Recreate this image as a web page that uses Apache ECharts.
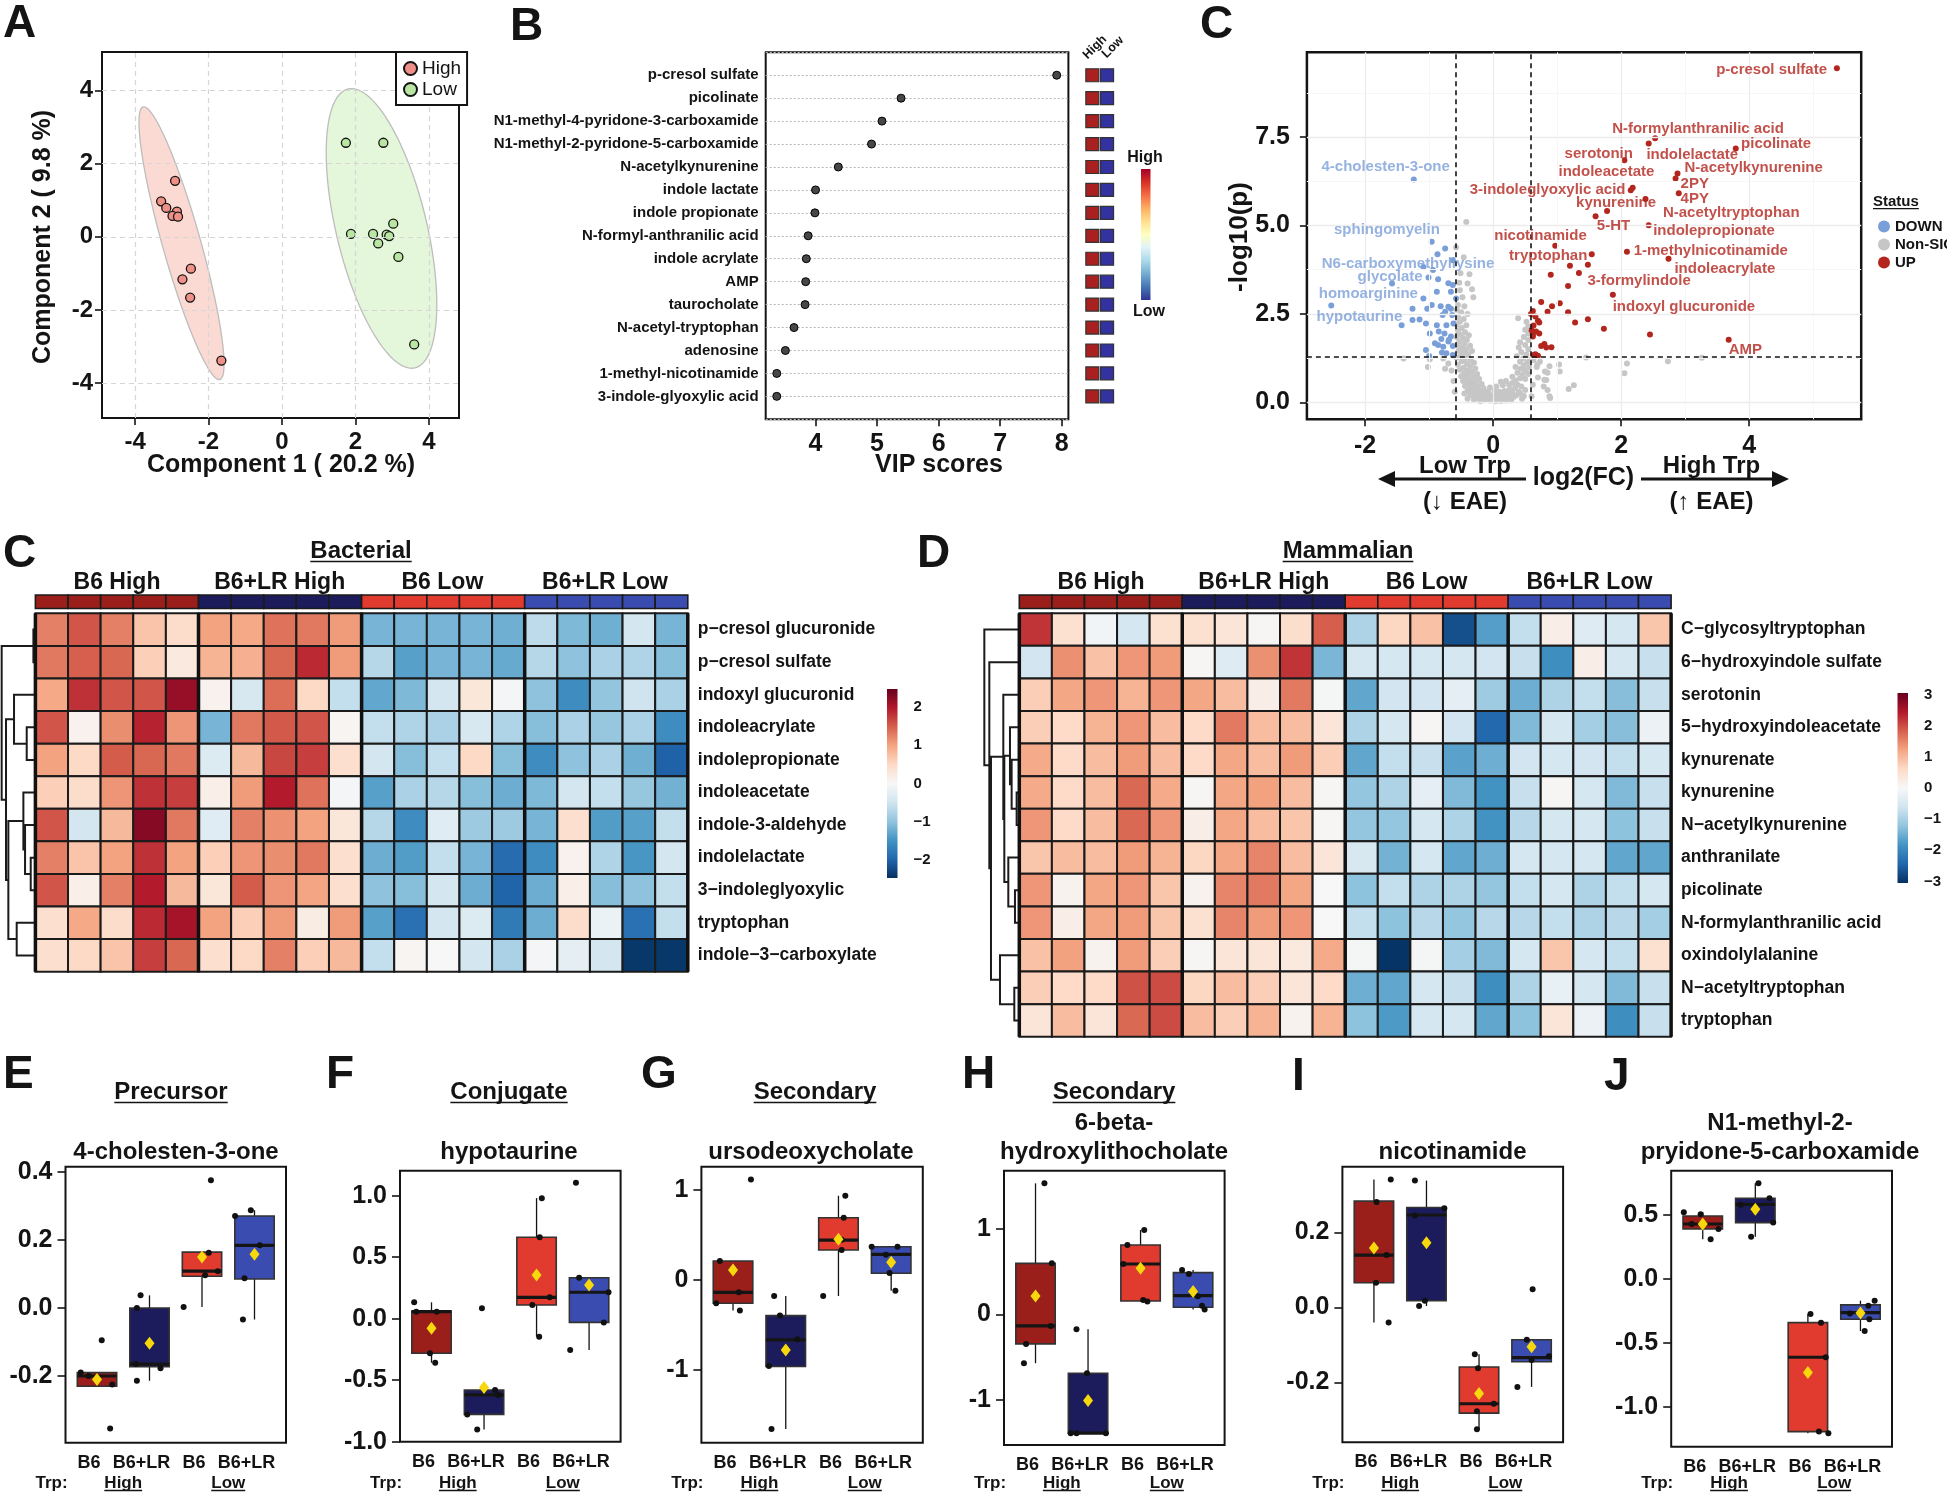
<!DOCTYPE html>
<html>
<head>
<meta charset="utf-8">
<title>Tryptophan metabolites</title>
<script src="https://cdn.jsdelivr.net/npm/echarts@6.0.0/dist/echarts.min.js"></script>
<style>
  html, body { margin: 0; padding: 0; background: #fff; }
  #main { width: 1947px; height: 1492px; }
</style>
</head>
<body>
<div id="main"></div>
<script>
// ---------------- data ----------------
// A: PLS-DA scores
const pcaHigh = [[-2.91,1.53],[-3.29,0.97],[-3.15,0.79],[-2.86,0.69],[-2.98,0.57],[-2.83,0.55],[-2.48,-0.87],[-2.71,-1.16],[-2.50,-1.66],[-1.65,-3.38]];
const pcaLow = [[1.74,2.57],[2.76,2.57],[3.03,0.36],[1.88,0.08],[2.48,0.08],[2.85,0.06],[2.92,0.02],[2.62,-0.18],[3.17,-0.55],[3.60,-2.94]];
// ellipse: centre x, centre y, semi-major vector, semi-minor vector
const ellipseHigh = [-2.735, -0.175, 1.045, -3.725, 0.50, 0.14];
const ellipseLow = [2.71, 0.23, 0.91, -3.81, 1.20, 0.285];
const pcaTicks = [-4, -2, 0, 2, 4];

// B: VIP scores
const vipNames = ['p-cresol sulfate','picolinate','N1-methyl-4-pyridone-3-carboxamide','N1-methyl-2-pyridone-5-carboxamide','N-acetylkynurenine','indole lactate','indole propionate','N-formyl-anthranilic acid','indole acrylate','AMP','taurocholate','N-acetyl-tryptophan','adenosine','1-methyl-nicotinamide','3-indole-glyoxylic acid'];
const vipScores = [7.92,5.39,5.08,4.91,4.37,4.00,3.99,3.88,3.85,3.84,3.83,3.65,3.51,3.37,3.37];
const vipTicks = [4, 5, 6, 7, 8];

// C: volcano
const volcUp = [[5.37,9.45],[2.53,7.47],[2.43,7.32],[3.79,7.18],[2.05,6.85],[2.88,6.47],[2.85,6.33],[2.18,6.07],[2.15,6.00],[2.90,5.91],[2.38,5.75],[1.78,5.41],[1.60,5.26],[2.43,5.01],[0.97,4.43],[2.09,4.26],[1.54,4.19],[2.74,4.06],[1.20,3.86],[1.48,3.89],[0.90,3.61],[1.34,3.66],[1.17,3.29],[1.87,3.04],[0.75,2.84],[1.04,2.80],[0.92,2.72],[0.62,2.58],[0.85,2.56],[1.17,2.55],[0.59,2.50],[0.66,2.43],[0.70,2.31],[1.28,2.26],[1.48,2.35],[0.72,2.26],[0.63,2.17],[0.60,2.04],[1.73,2.08],[2.45,1.92],[0.67,2.00],[0.72,1.95],[0.62,1.91],[0.62,1.86],[3.68,1.77],[0.80,1.65],[0.75,1.59],[0.91,1.56],[0.83,1.55],[0.66,1.36],[0.70,1.32],[0.63,1.34]];
const volcDown = [[-1.24,6.30],[-0.96,4.54],[-0.75,4.35],[-0.87,4.19],[-0.63,4.02],[-1.09,3.83],[-0.94,3.74],[-1.01,3.53],[-0.86,3.48],[-0.70,3.37],[-0.63,3.32],[-1.58,3.36],[-0.88,3.13],[-0.66,3.13],[-1.09,2.94],[-0.58,2.94],[-2.53,2.74],[-0.96,2.75],[-0.82,2.72],[-0.70,2.70],[-1.26,2.65],[-1.03,2.65],[-0.75,2.56],[-0.66,2.65],[-0.64,2.47],[-0.79,2.47],[-1.26,2.33],[-1.15,2.34],[-1.43,2.18],[-1.05,2.23],[-0.88,2.18],[-0.73,2.18],[-0.62,2.23],[-0.99,1.95],[-0.85,2.00],[-0.76,1.95],[-0.66,1.86],[-0.81,1.79],[-0.70,1.72],[-0.86,1.62],[-0.63,1.59],[-1.05,1.48],[-0.73,1.39],[-1.00,1.31],[-0.63,1.34],[-0.78,1.57],[-0.91,1.67],[-0.69,1.77],[-0.80,1.41]];
const volcNS = [[-0.42,5.10],[-0.58,4.38],[-0.46,4.10],[-0.51,3.65],[-0.37,3.62],[-0.53,3.38],[-0.40,3.36],[-0.52,3.17],[-0.33,3.20],[-0.31,2.97],[-0.48,2.97],[-0.55,2.75],
[-0.45,2.72],[-0.57,2.62],[-0.50,2.55],[-0.40,2.50],[-0.55,2.42],[-0.46,2.36],[-0.52,2.28],[-0.57,2.20],[-0.42,2.18],[-0.49,2.10],[-0.55,2.04],[-0.44,1.98],[-0.52,1.92],[-0.38,1.90],[-0.57,1.85],[-0.47,1.82],[-0.41,1.76],[-0.53,1.72],[-0.45,1.66],[-0.56,1.62],[-0.36,1.60],[-0.49,1.56],[-0.42,1.50],[-0.54,1.46],[-0.33,1.45],[-0.46,1.40],[-0.39,1.35],[-0.51,1.31],[-0.57,1.26],[-0.44,1.24],[-0.35,1.20],[-0.49,1.16],[-0.30,1.12],[-0.41,1.10],[-0.55,1.06],[-0.36,1.02],[-0.46,0.98],[-0.28,0.96],[-0.52,0.92],[-0.40,0.90],[-0.33,0.86],[-0.45,0.82],[-0.25,0.80],[-0.38,0.77],[-0.50,0.74],[-0.30,0.71],[-0.42,0.68],[-0.22,0.66],[-0.35,0.62],[-0.47,0.60],[-0.27,0.57],[-0.40,0.54],[-0.18,0.52],[-0.32,0.49],[-0.44,0.46],[-0.24,0.44],[-0.36,0.41],[-0.15,0.40],[-0.28,0.37],[-0.40,0.33],[-0.20,0.32],[-0.33,0.28],[-0.12,0.27],[-0.25,0.24],[-0.36,0.20],[-0.17,0.19],[-0.29,0.15],[-0.08,0.16],[-0.22,0.11],[-0.13,0.09],[-0.30,0.07],[-0.40,0.10],[-0.45,0.25],[-0.20,0.03],
[-0.05,0.05],[0.00,0.12],[0.04,0.03],[0.08,0.10],[0.12,0.04],[0.16,0.12],[0.20,0.05],[0.24,0.13],[0.28,0.06],[0.32,0.15],[-0.02,0.20],[0.06,0.22],[0.14,0.20],[0.22,0.24],[0.30,0.26],[0.36,0.20],[0.10,0.30],[0.18,0.32],[0.02,0.34],[0.26,0.36],[-0.08,0.30],[0.40,0.30],[0.34,0.40],[0.45,0.10],[0.42,0.25],[0.48,0.18],[0.50,0.35],[0.38,0.50],[0.44,0.45],[0.05,0.45],[0.15,0.48],[0.25,0.50],[-0.05,0.42],[0.20,0.60],[0.30,0.55],[0.12,0.58],
[0.35,0.62],[0.42,0.68],[0.50,0.66],[0.30,0.72],[0.46,0.78],[0.55,0.80],[0.38,0.84],[0.50,0.90],[0.43,0.95],[0.56,0.98],[0.35,1.00],[0.48,1.05],[0.53,1.12],[0.42,1.15],[0.57,1.20],[0.47,1.25],[0.37,1.30],[0.52,1.35],[0.44,1.42],[0.55,1.50],[0.40,1.55],[0.50,1.62],[0.42,1.70],[0.55,1.76],[0.48,1.85],[0.55,1.95],[0.50,2.05],[0.39,2.38],[0.52,2.28],[0.55,2.15],
[-1.40,1.24],[-1.02,1.00],[-0.99,1.22],[-0.78,1.24],[-0.70,1.10],[-0.65,0.90],[-0.62,0.60],[-0.60,0.30],[-0.75,0.95],
[1.45,1.27],[2.09,1.10],[2.05,0.82],[2.73,1.16],[3.26,1.26],[1.04,0.87],[1.26,0.48],[1.18,0.38],[0.85,0.35],[0.88,0.17],[0.83,0.63],[0.60,0.17],[1.03,1.07],[0.69,1.07],[0.88,1.02],[0.81,0.87],[0.73,1.15],[0.63,1.20],[0.68,1.00],[0.79,0.45],[0.80,0.64],[0.85,0.84],[0.89,0.12],[0.62,0.50],[0.70,0.70]];
const volcLabels = [
  ['p-cresol sulfate',4.35,9.39,'UP'],['N-formylanthranilic acid',3.20,7.73,'UP'],['picolinate',4.42,7.32,'UP'],['serotonin',1.65,7.04,'UP'],
  ['indolelactate',3.11,7.01,'UP'],['N-acetylkynurenine',4.07,6.63,'UP'],['indoleacetate',1.77,6.52,'UP'],['2PY',3.15,6.19,'UP'],
  ['3-indoleglyoxylic acid',0.85,6.00,'UP'],['4PY',3.15,5.75,'UP'],['kynurenine',1.92,5.65,'UP'],['N-acetyltryptophan',3.72,5.37,'UP'],
  ['5-HT',1.88,4.98,'UP'],['indolepropionate',3.45,4.84,'UP'],['nicotinamide',0.74,4.71,'UP'],['1-methylnicotinamide',3.40,4.28,'UP'],
  ['tryptophan',0.86,4.14,'UP'],['indoleacrylate',3.62,3.77,'UP'],['3-formylindole',2.28,3.44,'UP'],['indoxyl glucuronide',2.98,2.69,'UP'],
  ['AMP',3.94,1.48,'UP'],
  ['4-cholesten-3-one',-1.68,6.66,'DOWN'],['sphingomyelin',-1.66,4.87,'DOWN'],['N6-carboxymethyllysine',-1.33,3.93,'DOWN'],
  ['glycolate',-1.61,3.55,'DOWN'],['homoarginine',-1.95,3.08,'DOWN'],['hypotaurine',-2.09,2.42,'DOWN']
];
const volcXTicks = [-2, 0, 2, 4];
const volcYTicks = [0, 2.5, 5, 7.5];
const fcCut = 0.585, pCut = 1.301;

// heatmaps
const groupNames = ['B6 High', 'B6+LR High', 'B6 Low', 'B6+LR Low'];
const sampleGroup = [0,0,0,0,0, 1,1,1,1,1, 2,2,2,2,2, 3,3,3,3,3];
const bactRows = ['p−cresol glucuronide','p−cresol sulfate','indoxyl glucuronid','indoleacrylate','indolepropionate','indoleacetate','indole-3-aldehyde','indolelactate','3−indoleglyoxylic','tryptophan','indole−3−carboxylate'];
const bactVals = [
  [1.25,1.55,1.25,0.7,0.45, 1.0,0.95,1.35,1.3,1.05, -1.15,-1.15,-1.15,-1.15,-1.2, -0.65,-1.1,-1.2,-0.45,-1.15],
  [1.3,1.48,1.42,0.6,0.25, 0.85,0.88,1.42,1.85,1.05, -0.7,-1.35,-1.15,-1.15,-1.25, -0.7,-1.0,-0.8,-0.75,-1.05],
  [0.95,1.8,1.55,1.55,2.15, 0.1,-0.4,1.38,0.5,-0.6, -1.28,-1.1,-0.45,0.3,-0.05, -1.0,-1.55,-0.98,-0.5,-0.8],
  [1.55,0.1,1.15,1.9,1.1, -1.15,1.3,1.52,1.55,0.05, -0.6,-0.75,-0.8,-0.4,-0.75, -1.05,-0.8,-0.95,-0.8,-1.55],
  [1.0,0.5,1.5,1.42,1.3, -0.35,0.8,1.65,1.7,0.42, -0.45,-1.05,-0.6,0.5,-1.05, -1.55,-1.0,-0.8,-1.2,-2.0],
  [0.6,0.45,1.1,1.8,1.7, 0.15,1.05,1.95,1.35,-0.05, -1.35,-0.8,-0.7,-1.05,-1.22, -1.1,-0.45,-0.6,-0.95,-1.18],
  [1.55,-0.45,0.8,2.25,1.3, -0.3,1.25,1.12,1.0,0.3, -0.7,-1.55,-0.3,-0.9,-0.9, -1.15,0.42,-1.38,-1.35,-0.6],
  [1.25,0.7,1.0,1.8,1.0, 0.6,1.1,1.15,1.3,0.42, -1.22,-1.38,-0.6,-1.15,-1.9, -1.55,0.1,-0.75,-1.45,-0.45],
  [1.55,0.15,1.25,1.95,0.8, 0.3,1.5,1.1,0.98,0.42, -1.0,-1.05,-0.45,-1.22,-1.98, -1.22,0.15,-1.05,-1.0,-0.6],
  [0.42,0.95,0.45,1.85,2.05, 1.0,0.6,1.05,0.2,1.05, -1.35,-1.85,-0.45,-0.35,-1.75, -1.22,0.45,-0.15,-1.85,-0.6],
  [0.42,0.5,0.7,1.7,1.42, 0.42,0.5,1.25,0.6,0.8, -0.6,0.05,0.0,-0.45,-0.8, -0.05,-0.25,-0.45,-2.4,-2.4]
];
// dendrogram merges, hclust style: negative = leaf (row), positive = earlier merge; last = height
const bactMerges = [[-1,-2,6],[-4,-5,26],[-3,2,64],[-8,-9,14],[-7,4,31],[-6,5,36],[-10,-11,56],[6,7,81],[3,8,88],[1,9,101]];
const bactScale = [-2, -1, 0, 1, 2];

const mammRows = ['C−glycosyltryptophan','6−hydroxyindole sulfate','serotonin','5−hydroxyindoleacetate','kynurenate','kynurenine','N−acetylkynurenine','anthranilate','picolinate','N-formylanthranilic acid','oxindolylalanine','N−acetyltryptophan','tryptophan'];
const mammVals = [
  [2.2,0.5,-0.1,-0.55,0.5, 0.5,0.4,0.05,0.55,1.85, -0.95,0.65,0.9,-2.7,-1.7, -0.75,0.2,-0.4,-0.55,0.85],
  [-0.6,1.4,0.9,1.35,1.3, 0.05,-0.4,1.4,2.2,-1.4, -0.55,-0.55,-0.55,-0.55,-0.6, -0.7,-1.9,0.2,-0.55,-0.7],
  [0.75,1.2,1.35,1.05,1.35, 1.2,0.95,0.2,1.6,-0.05, -1.6,-0.6,-0.6,-0.3,-1.1, -1.5,-0.95,-0.75,-1.3,-0.7],
  [0.75,0.6,1.05,1.35,0.95, 0.6,1.6,0.95,0.95,0.4, -0.95,-0.55,0.05,-0.6,-2.4, -1.35,-0.55,-1.05,-1.3,-0.2],
  [1.15,0.6,0.95,1.3,0.95, 0.6,1.2,0.95,1.3,0.75, -1.6,-0.75,-0.7,-1.65,-1.5, -0.6,-0.55,-0.6,-0.75,-0.55],
  [1.15,0.6,0.95,1.75,1.15, 0.05,1.2,1.25,0.95,0.05, -1.2,-0.95,-0.3,-1.35,-1.85, -0.7,0.05,-0.55,-1.35,-0.7],
  [1.35,0.6,0.95,1.75,1.35, 0.2,1.2,0.95,0.85,0.05, -1.2,-1.2,-0.55,-0.95,-1.85, -0.85,-0.55,-0.55,-1.25,-0.7],
  [0.85,0.95,0.95,1.3,1.05, 0.65,1.2,1.5,0.95,0.4, -0.5,-1.45,-0.55,-1.6,-1.5, -0.55,-0.55,-0.55,-1.6,-1.6],
  [1.35,0.1,1.2,1.35,0.85, 0.1,1.5,1.6,1.2,0.0, -1.25,-0.75,-0.95,-0.95,-1.2, -0.75,-0.55,-0.95,-0.75,-0.55],
  [1.35,0.2,1.2,1.3,0.85, 0.5,1.5,1.3,1.35,0.0, -0.75,-1.25,-0.85,-1.2,-0.85, -0.85,-0.75,-0.95,-0.85,-1.05],
  [0.9,1.25,0.1,1.3,0.75, 0.05,0.4,0.4,0.3,1.15, -0.05,-3.0,-0.05,-1.05,-1.35, -0.55,0.85,-0.55,-0.75,0.5],
  [0.75,0.6,0.6,1.95,2.0, 0.65,0.95,0.75,0.4,0.6, -1.5,-1.6,-0.55,-0.7,-1.9, -0.95,-0.25,-0.55,-1.35,-0.7],
  [0.4,0.95,0.4,1.75,2.0, 0.95,0.75,1.05,0.1,1.05, -1.25,-1.75,-0.55,-0.55,-1.6, -1.25,0.4,-0.2,-1.9,-0.7]
];
const mammMerges = [[-6,-7,8],[-5,1,23],[-4,2,28],[-9,-10,13],[-8,4,33],[3,5,45],[-3,6,48],[-12,-13,15],[-11,8,58],[7,9,85],[-2,10,90],[-1,11,105]];
const mammScale = [-3, -2, -1, 0, 1, 2, 3];

// E-J: box plots  [min, Q1, median, Q3, max] per group, points, jitter, mean
const boxCats = ['B6', 'B6+LR', 'B6', 'B6+LR'];
const eBox = [[-0.23,-0.23,-0.20,-0.19,-0.19],[-0.214,-0.173,-0.165,0.0,0.037],[0.003,0.093,0.108,0.164,0.164],[-0.034,0.085,0.184,0.27,0.287]];
const eVals = [[-0.19,-0.20,-0.225,-0.095,-0.354],[0.037,0.0,-0.165,-0.177,-0.214],[0.375,0.162,0.108,0.096,0.003],[0.287,0.27,0.184,0.087,-0.034]];
const eJit = [[-0.31,-0.16,0.29,0.09,0.25],[-0.17,-0.24,-0.26,0.21,-0.24],[0.17,0.13,0.3,0.06,-0.35],[-0.07,-0.37,0.1,-0.19,-0.22]];
const eMean = [-0.21,-0.104,0.15,0.158];
const fBox = [[-0.358,-0.281,0.057,0.063,0.133],[-0.9,-0.778,-0.62,-0.58,-0.58],[-0.146,0.111,0.174,0.662,0.98],[-0.254,-0.03,0.215,0.333,0.333]];
const fVals = [[0.133,0.057,0.057,-0.281,-0.358],[0.084,-0.62,-0.778,-0.9,-0.58],[0.98,0.662,0.174,0.111,-0.146],[1.106,0.333,0.215,-0.03,-0.254]];
const fJit = [[-0.33,-0.29,0.1,-0.03,0.07],[-0.04,0.27,-0.32,-0.13,0.21],[0.1,0.06,0.25,-0.08,0.05],[-0.25,-0.19,0.37,0.28,-0.36]];
const fMean = [-0.078,-0.56,0.355,0.274];
const gBox = [[-0.34,-0.259,-0.137,0.211,0.211],[-1.659,-0.963,-0.667,-0.396,-0.178],[-0.178,0.333,0.444,0.692,0.937],[-0.119,0.074,0.285,0.37,0.37]];
const gVals = [[0.211,-0.137,-0.259,-0.34,1.119],[-0.178,-0.396,-0.66,-0.957,-1.659],[0.937,0.692,0.448,0.333,-0.178],[0.37,0.37,0.28,0.078,-0.119]];
const gJit = [[-0.25,0.11,-0.32,0.13,0.34],[-0.22,-0.11,0.22,-0.32,-0.27],[0.13,0.1,0.06,0.06,-0.29],[-0.37,0.12,-0.1,-0.03,0.08]];
const gMean = [0.111,-0.778,0.452,0.196];
const hBox = [[-0.573,-0.347,-0.137,0.596,1.532],[-1.392,-1.392,-1.392,-0.69,-0.175],[0.15,0.156,0.588,0.81,0.986],[0.055,0.082,0.218,0.487,0.518]];
const hVals = [[1.532,0.596,-0.137,-0.347,-0.573],[-0.175,-0.69,-1.392,-1.392,-1.392],[0.986,0.81,0.588,0.166,0.15],[0.518,0.471,0.21,0.1,0.055]];
const hJit = [[0.17,0.31,0.29,-0.18,-0.22],[-0.22,-0.02,-0.33,-0.22,0.34],[0.07,-0.25,-0.33,0.05,0.13],[-0.21,-0.08,0.09,0.17,0.22]];
const hMean = [0.214,-1.01,0.538,0.265];
const iBox = [[-0.04,0.066,0.14,0.284,0.342],[0.004,0.018,0.247,0.267,0.339],[-0.325,-0.282,-0.257,-0.159,-0.125],[-0.212,-0.145,-0.134,-0.086,-0.086]];
const iVals = [[0.342,0.282,0.14,0.066,-0.04],[0.339,0.265,0.246,0.018,0.004],[-0.125,-0.162,-0.257,-0.277,-0.325],[0.049,-0.086,-0.14,-0.13,-0.212]];
const iJit = [[0.32,0.05,0.24,0.04,0.28],[-0.22,0.34,-0.22,-0.03,-0.14],[-0.08,-0.02,0.28,-0.04,-0.04],[0.02,-0.09,0,0.33,-0.27]];
const iMean = [0.159,0.173,-0.23,-0.105];
const jBox = [[0.31,0.391,0.43,0.493,0.522],[0.331,0.441,0.584,0.631,0.749],[-1.208,-1.195,-0.613,-0.342,-0.274],[-0.408,-0.316,-0.263,-0.203,-0.17]];
const jVals = [[0.522,0.507,0.43,0.391,0.31],[0.749,0.631,0.441,0.331,0.58],[-0.274,-0.342,-0.613,-1.195,-1.208],[-0.17,-0.21,-0.27,-0.316,-0.408]];
const jJit = [[-0.36,-0.04,-0.21,0.3,0.15],[0.06,0.27,0.34,-0.08,-0.28],[0.05,0.25,0.34,0.21,0.39],[0.27,0.15,-0.2,0.17,0.08]];
const jMean = [0.43,0.545,-0.733,-0.266];

// ---------------- styling ----------------
const FONT = '"Liberation Sans", Arial, Helvetica, sans-serif';
const INK = '#141414';
const rdbu = ['#053061','#2166ac','#4393c3','#92c5de','#d1e5f0','#f7f7f7','#fddbc7','#f4a582','#d6604d','#b2182b','#67001f'];
const rdylbu = ['#313695','#4575b4','#74add1','#abd9e9','#e0f3f8','#ffffbf','#fee090','#fdae61','#f46d43','#d73027','#a50026'];
const groupColors = ['#9a1f1b', '#1c1c5c', '#e13a2e', '#3a4cb0'];
const upColor = '#b3261e', downColor = '#7a9fd8', nsColor = '#c6c6c6';

const grids = [], xAxes = [], yAxes = [], series = [], graphics = [];
function addGrid(g, x, y) {
  grids.push(g);
  const gi = grids.length - 1;
  xAxes.push(Object.assign({ gridIndex: gi }, x));
  yAxes.push(Object.assign({ gridIndex: gi }, y));
  return gi;
}
const hidden = (min, max, extra) => Object.assign({ type: 'value', min, max, show: false }, extra || {});
const tickAxis = (min, max, ticks, fmt, size, margin, tickLen) => ({
  type: 'value', min, max,
  axisLine: { show: false, onZero: false }, splitLine: { show: false },
  axisTick: { show: true, customValues: ticks, length: tickLen || 7, lineStyle: { color: INK, width: 1.6 } },
  axisLabel: { customValues: ticks, formatter: fmt, fontSize: size, fontWeight: 'bold', color: INK, fontFamily: FONT, margin }
});

const measure = document.createElement('canvas').getContext('2d');
function txt(text, x, y, size, o) {
  o = o || {};
  const align = o.align || 'center';
  const font = (o.weight || 'bold') + ' ' + size + 'px ' + FONT;
  graphics.push({ type: 'text', x, y, rotation: o.rot || 0, z: 50, silent: true,
    style: { text, font, fill: o.color || INK, align, verticalAlign: 'middle', textAlign: align, textVerticalAlign: 'middle' } });
  if (o.underline) {
    measure.font = font;
    const w = measure.measureText(text).width;
    const x0 = align === 'center' ? x - w / 2 : (align === 'left' ? x : x - w);
    const uy = y + size * 0.44;
    graphics.push({ type: 'line', z: 50, silent: true, shape: { x1: x0, y1: uy, x2: x0 + w, y2: uy },
      style: { stroke: INK, lineWidth: Math.max(1.3, size / 15) } });
  }
}

// ---------------- A ----------------
const gA = addGrid({ left: 102, top: 52, width: 357, height: 366, show: true, borderColor: INK, borderWidth: 2 },
  tickAxis(-4.9, 4.82, pcaTicks, v => String(v), 24, 12),
  tickAxis(-4.95, 5.05, pcaTicks, v => String(v), 24, 9));
series.push({ type: 'scatter', xAxisIndex: gA, yAxisIndex: gA, data: [], z: 0, silent: true,
  markLine: { silent: true, symbol: 'none', animation: false, label: { show: false },
    lineStyle: { type: [5, 4], color: '#d6d6d6', width: 1.2 },
    data: pcaTicks.map(v => ({ xAxis: v })).concat(pcaTicks.map(v => ({ yAxis: v }))) } });
function ellipseItem(e, fill) {
  return function (params, api) {
    const pts = [];
    for (let k = 0; k <= 90; k++) {
      const t = k / 90 * Math.PI * 2;
      pts.push(api.coord([e[0] + Math.cos(t) * e[2] + Math.sin(t) * e[4], e[1] + Math.cos(t) * e[3] + Math.sin(t) * e[5]]));
    }
    return { type: 'polygon', shape: { points: pts }, style: { fill, stroke: '#bdbdbd', lineWidth: 1.3 } };
  };
}
series.push({ type: 'custom', xAxisIndex: gA, yAxisIndex: gA, silent: true, z: 1, data: [[ellipseHigh[0], ellipseHigh[1]]], renderItem: ellipseItem(ellipseHigh, 'rgba(249,205,196,0.75)') });
series.push({ type: 'custom', xAxisIndex: gA, yAxisIndex: gA, silent: true, z: 1, data: [[ellipseLow[0], ellipseLow[1]]], renderItem: ellipseItem(ellipseLow, 'rgba(226,246,214,0.9)') });
series.push({ type: 'scatter', name: 'High', xAxisIndex: gA, yAxisIndex: gA, data: pcaHigh, symbolSize: 9, z: 3,
  itemStyle: { color: '#ef9088', borderColor: INK, borderWidth: 1.3, opacity: 1 } });
series.push({ type: 'scatter', name: 'Low', xAxisIndex: gA, yAxisIndex: gA, data: pcaLow, symbolSize: 9, z: 3,
  itemStyle: { color: '#b9e6a2', borderColor: INK, borderWidth: 1.3, opacity: 1 } });

// ---------------- B ----------------
const gB = addGrid({ left: 765.7, top: 52.3, width: 302.7, height: 367, show: true, borderColor: INK, borderWidth: 2 },
  tickAxis(3.19, 8.11, vipTicks, v => String(v), 25, 12),
  { type: 'value', min: 0, max: vipNames.length + 1, interval: 1, inverse: true,
    axisLine: { show: false, onZero: false }, axisTick: { show: false },
    splitLine: { show: true, lineStyle: { type: [2, 2], color: '#b9b9b9', width: 1 } },
    axisLabel: { formatter: v => vipNames[v - 1] || '', fontSize: 15, fontWeight: 'bold', color: INK, fontFamily: FONT, margin: 7 } });
series.push({ type: 'scatter', xAxisIndex: gB, yAxisIndex: gB, data: vipScores.map((v, i) => [v, i + 1]), symbolSize: 8, z: 3,
  itemStyle: { color: '#474747', borderColor: '#000', borderWidth: 1, opacity: 1 } });
const gSq = addGrid({ left: 1085, top: 52.3, width: 29.4, height: 367 },
  { type: 'category', data: ['High', 'Low'], show: false },
  hidden(0, vipNames.length + 1, { inverse: true }));
series.push({ type: 'scatter', name: 'sqHigh', xAxisIndex: gSq, yAxisIndex: gSq, symbol: 'rect', symbolSize: 13, silent: true,
  data: vipNames.map((n, i) => ['High', i + 1]), itemStyle: { color: '#a8201f', borderColor: '#333', borderWidth: 1.2, opacity: 1 } });
series.push({ type: 'scatter', name: 'sqLow', xAxisIndex: gSq, yAxisIndex: gSq, symbol: 'rect', symbolSize: 13, silent: true,
  data: vipNames.map((n, i) => ['Low', i + 1]), itemStyle: { color: '#3431a0', borderColor: '#333', borderWidth: 1.2, opacity: 1 } });

// ---------------- C volcano ----------------
const gV = addGrid({ left: 1306.9, top: 52.3, width: 554.3, height: 367, show: true, borderColor: INK, borderWidth: 2.5 },
  tickAxis(-2.91, 5.75, volcXTicks, v => String(v), 25, 14),
  tickAxis(-0.48, 9.9, volcYTicks, v => v.toFixed(1), 25, 17));
const majorX = volcXTicks, minorX = [-1, 1, 3, 5], majorY = volcYTicks, minorY = [1.25, 3.75, 6.25, 8.75];
series.push({ type: 'scatter', xAxisIndex: gV, yAxisIndex: gV, data: [], z: 0, silent: true,
  markLine: { silent: true, symbol: 'none', animation: false, label: { show: false },
    data: majorX.map(v => ({ xAxis: v, lineStyle: { color: '#ececec', width: 1.3, type: 'solid' } }))
      .concat(majorY.map(v => ({ yAxis: v, lineStyle: { color: '#ececec', width: 1.3, type: 'solid' } })))
      .concat(minorX.map(v => ({ xAxis: v, lineStyle: { color: '#f6f6f6', width: 1, type: 'solid' } })))
      .concat(minorY.map(v => ({ yAxis: v, lineStyle: { color: '#f6f6f6', width: 1, type: 'solid' } }))) } });
series.push({ type: 'scatter', name: 'Non-SIG', xAxisIndex: gV, yAxisIndex: gV, data: volcNS, symbolSize: 6, z: 2, itemStyle: { color: nsColor, opacity: 1 } });
series.push({ type: 'scatter', name: 'DOWN', xAxisIndex: gV, yAxisIndex: gV, data: volcDown, symbolSize: 6, z: 3, itemStyle: { color: downColor, opacity: 1 } });
series.push({ type: 'scatter', name: 'UP', xAxisIndex: gV, yAxisIndex: gV, data: volcUp, symbolSize: 6, z: 3, itemStyle: { color: upColor, opacity: 1 } });
series.push({ type: 'scatter', xAxisIndex: gV, yAxisIndex: gV, data: [], z: 8, silent: true,
  markLine: { silent: true, symbol: 'none', animation: false, label: { show: false },
    lineStyle: { type: [5, 4], color: INK, width: 1.6 },
    data: [{ xAxis: -fcCut }, { xAxis: fcCut }, { yAxis: pCut }] } });
series.push({ type: 'scatter', xAxisIndex: gV, yAxisIndex: gV, symbolSize: 0, z: 9, silent: true,
  data: volcLabels.map(l => ({ value: [l[1], l[2]], name: l[0], label: { color: l[3] === 'UP' ? upColor : downColor } })),
  label: { show: true, position: 'inside', formatter: p => p.name, fontSize: 15, fontWeight: 'bold', fontFamily: FONT },
  labelLayout: { hideOverlap: false } });

// ---------------- heatmaps ----------------
function heatItem(params, api) {
  const c = api.value(0), r = api.value(1);
  const a = api.coord([c, r]), b = api.coord([c + 1, r + 1]);
  return { type: 'rect', shape: { x: Math.min(a[0], b[0]), y: Math.min(a[1], b[1]), width: Math.abs(b[0] - a[0]), height: Math.abs(b[1] - a[1]) },
    style: { fill: api.visual('color'), stroke: '#1b1b1b', lineWidth: 2 } };
}
function annItem(params, api) {
  const c = api.value(0);
  const a = api.coord([c, 0]), b = api.coord([c + 1, 1]);
  return { type: 'rect', shape: { x: a[0], y: Math.min(a[1], b[1]), width: b[0] - a[0], height: Math.abs(b[1] - a[1]) },
    style: { fill: groupColors[api.value(2)], stroke: '#1b1b1b', lineWidth: 1.6 } };
}
function sepItem(nRows) {
  return function (params, api) {
    const x = api.value(0);
    const a = api.coord([x, 0]), b = api.coord([x, nRows]);
    return { type: 'line', shape: { x1: a[0], y1: a[1], x2: b[0], y2: b[1] }, style: { stroke: '#111', lineWidth: 3.5 } };
  };
}
function dendroData(merges) {
  const pos = [], hgt = [], out = [];
  merges.forEach(m => {
    const pa = m[0] < 0 ? -m[0] - 0.5 : pos[m[0] - 1], ha = m[0] < 0 ? 0 : hgt[m[0] - 1];
    const pb = m[1] < 0 ? -m[1] - 0.5 : pos[m[1] - 1], hb = m[1] < 0 ? 0 : hgt[m[1] - 1];
    pos.push((pa + pb) / 2); hgt.push(m[2]);
    out.push([ha, pa, hb, pb, m[2]]);
  });
  return out;
}
function dendroItem(params, api) {
  const h = api.value(4);
  const pts = [api.coord([api.value(0), api.value(1)]), api.coord([h, api.value(1)]), api.coord([h, api.value(3)]), api.coord([api.value(2), api.value(3)])];
  return { type: 'polyline', shape: { points: pts }, style: { stroke: '#1b1b1b', lineWidth: 2, fill: null } };
}
function barItem(lo, hi) {
  return function (params, api) {
    const a = api.coord([0, hi]), b = api.coord([1, lo]);
    return { type: 'rect', shape: { x: a[0], y: a[1], width: b[0] - a[0], height: b[1] - a[1] },
      style: { fill: { type: 'linear', x: 0, y: 0, x2: 0, y2: 1,
        colorStops: rdbu.slice().reverse().map((c, i, arr) => ({ offset: i / (arr.length - 1), color: c })) } } };
  };
}
const visualMaps = [];
function heatPanel(rows, vals, merges, maxH, lim, scaleTicks, geo) {
  const n = rows.length;
  const gh = addGrid({ left: geo.left, top: geo.top, width: geo.width, height: geo.height },
    hidden(0, 20),
    { type: 'value', min: 0, max: n, inverse: true, position: 'right',
      axisLine: { show: false, onZero: false }, axisTick: { show: false }, splitLine: { show: false },
      axisLabel: { customValues: rows.map((r, i) => i + 0.5), formatter: v => rows[Math.floor(v)], fontSize: 17.5, fontWeight: 'bold', color: INK, fontFamily: FONT, margin: 10 } });
  const data = [];
  vals.forEach((row, r) => row.forEach((v, c) => data.push([c, r, v])));
  series.push({ type: 'custom', xAxisIndex: gh, yAxisIndex: gh, data, renderItem: heatItem, silent: true, z: 2, encode: { x: 0, y: 1 } });
  visualMaps.push({ type: 'continuous', show: false, seriesIndex: series.length - 1, dimension: 2, min: -lim, max: lim, inRange: { color: rdbu } });
  series.push({ type: 'custom', xAxisIndex: gh, yAxisIndex: gh, data: [[0], [5], [10], [15], [20]], renderItem: sepItem(n), silent: true, z: 3 });
  // annotation bar
  const ga = addGrid({ left: geo.left, top: 595, width: geo.width, height: 13.5 }, hidden(0, 20), hidden(0, 1));
  series.push({ type: 'custom', xAxisIndex: ga, yAxisIndex: ga, data: sampleGroup.map((g, c) => [c, 0, g]), renderItem: annItem, silent: true, z: 2 });
  // dendrogram
  const gd = addGrid({ left: geo.dLeft, top: geo.top, width: geo.left - geo.dLeft, height: geo.height },
    hidden(0, maxH, { inverse: true }), hidden(0, n, { inverse: true }));
  series.push({ type: 'custom', xAxisIndex: gd, yAxisIndex: gd, data: dendroData(merges), renderItem: dendroItem, silent: true, z: 2 });
  // colour key
  const gk = addGrid({ left: geo.keyLeft, top: geo.keyTop, width: 10.5, height: geo.keyH },
    hidden(0, 1),
    { type: 'value', min: -lim, max: lim, position: 'right',
      axisLine: { show: false, onZero: false }, axisTick: { show: false }, splitLine: { show: false },
      axisLabel: { customValues: scaleTicks, formatter: v => String(v).replace('-', '−'), fontSize: 15, fontWeight: 'bold', color: INK, fontFamily: FONT, margin: 16 } });
  series.push({ type: 'custom', xAxisIndex: gk, yAxisIndex: gk, data: [[0, 0]], renderItem: barItem(-lim, lim), silent: true, z: 2 });
}
heatPanel(bactRows, bactVals, bactMerges, 106, 2.46, bactScale,
  { left: 35.4, top: 613.3, width: 652.4, height: 358.4, dLeft: 0, keyLeft: 887, keyTop: 689, keyH: 189 });
heatPanel(mammRows, mammVals, mammMerges, 133, 3.05, mammScale,
  { left: 1019.3, top: 613.3, width: 651.8, height: 423.4, dLeft: 975, keyLeft: 1897.5, keyTop: 693, keyH: 190 });

// ---------------- E-J box plots ----------------
const boxPanels = [
  { left: 65.5, top: 1166.7, w: 220.5, h: 276, min: -0.396, max: 0.415, ticks: [-0.2, 0, 0.2, 0.4], dp: 1, box: eBox, vals: eVals, jit: eJit, mean: eMean },
  { left: 400, top: 1170.7, w: 220.6, h: 271, min: -1.0, max: 1.203, ticks: [-1, -0.5, 0, 0.5, 1], dp: 1, box: fBox, vals: fVals, jit: fJit, mean: fMean },
  { left: 701.4, top: 1166.7, w: 221.4, h: 276, min: -1.81, max: 1.26, ticks: [-1, 0, 1], dp: 0, box: gBox, vals: gVals, jit: gJit, mean: gMean },
  { left: 1004, top: 1170.7, w: 220.6, h: 274.3, min: -1.53, max: 1.68, ticks: [-1, 0, 1], dp: 0, box: hBox, vals: hVals, jit: hJit, mean: hMean },
  { left: 1342.4, top: 1166.7, w: 220.7, h: 275.6, min: -0.36, max: 0.376, ticks: [-0.2, 0, 0.2], dp: 1, box: iBox, vals: iVals, jit: iJit, mean: iMean },
  { left: 1671.2, top: 1170.7, w: 220.8, h: 276, min: -1.313, max: 0.847, ticks: [-1, -0.5, 0, 0.5], dp: 1, box: jBox, vals: jVals, jit: jJit, mean: jMean }
];
function boxItem(params, api) {
  const c = api.value(0);
  const pMin = api.coord([c, api.value(1)]), pQ1 = api.coord([c, api.value(2)]), pMed = api.coord([c, api.value(3)]);
  const pQ3 = api.coord([c, api.value(4)]), pMax = api.coord([c, api.value(5)]);
  const half = api.size([0.75, 0])[0] / 2;
  return { type: 'group', children: [
    { type: 'line', shape: { x1: pMin[0], y1: pMin[1], x2: pQ1[0], y2: pQ1[1] }, style: { stroke: INK, lineWidth: 1.3 } },
    { type: 'line', shape: { x1: pQ3[0], y1: pQ3[1], x2: pMax[0], y2: pMax[1] }, style: { stroke: INK, lineWidth: 1.3 } },
    { type: 'rect', shape: { x: pQ1[0] - half, y: pQ3[1], width: half * 2, height: Math.max(pQ1[1] - pQ3[1], 1) },
      style: { fill: groupColors[c], stroke: '#333', lineWidth: 1.6 } },
    { type: 'line', shape: { x1: pMed[0] - half, y1: pMed[1], x2: pMed[0] + half, y2: pMed[1] }, style: { stroke: '#151515', lineWidth: 3.2 } }
  ] };
}
const trpRowY = 1483;
boxPanels.forEach(p => {
  const gi = addGrid({ left: p.left, top: p.top, width: p.w, height: p.h, show: true, borderColor: INK, borderWidth: 2 },
    { type: 'value', min: -0.6, max: 3.6, axisLine: { show: false, onZero: false }, splitLine: { show: false }, axisTick: { show: false },
      axisLabel: { customValues: [0, 1, 2, 3], formatter: v => boxCats[v], fontSize: 18, fontWeight: 'bold', color: INK, fontFamily: FONT, margin: 11, padding: [0, 16, 0, 0] } },
    tickAxis(p.min, p.max, p.ticks, v => v.toFixed(p.dp), 25, 13, 8));
  series.push({ type: 'custom', xAxisIndex: gi, yAxisIndex: gi, data: p.box.map((b, c) => [c].concat(b)), renderItem: boxItem, silent: true, z: 2 });
  const pts = [];
  p.vals.forEach((arr, c) => arr.forEach((v, j) => pts.push([c + p.jit[c][j], v])));
  series.push({ type: 'scatter', xAxisIndex: gi, yAxisIndex: gi, data: pts, symbolSize: 6, z: 3, silent: true, itemStyle: { color: '#111', opacity: 1 } });
  series.push({ type: 'scatter', xAxisIndex: gi, yAxisIndex: gi, data: p.mean.map((m, c) => [c, m]), symbol: 'diamond', symbolSize: [10, 13], z: 4, silent: true, itemStyle: { color: '#f7d80c', opacity: 1 } });
  txt('Trp:', p.left - 14, trpRowY, 17);
  txt('High', p.left + p.w * 1.1 / 4.2, trpRowY, 17, { underline: true });
  txt('Low', p.left + p.w * 3.1 / 4.2, trpRowY, 17, { underline: true });
});

// ---------------- texts ----------------
[['A', 3, 24], ['B', 510, 27], ['C', 1200, 25], ['C', 3, 554], ['D', 917, 554], ['E', 3, 1075], ['F', 326, 1075],
 ['G', 641, 1075], ['H', 962, 1075], ['I', 1292, 1077], ['J', 1604, 1077]].forEach(l => txt(l[0], l[1], l[2], 46, { align: 'left' }));
txt('Component 1 ( 20.2 %)', 281, 465, 25);
txt('Component 2 ( 9.8 %)', 43, 237, 25, { rot: Math.PI / 2 });
txt('VIP scores', 939, 465, 25);
txt('High', 1085, 57, 12.5, { align: 'left', rot: Math.PI / 4 });
txt('Low', 1104, 56, 12.5, { align: 'left', rot: Math.PI / 4 });
txt('High', 1145, 158, 16);
txt('Low', 1149, 312, 16);
graphics.push({ type: 'rect', z: 40, silent: true, shape: { x: 1141, y: 169, width: 9.5, height: 131 },
  style: { fill: { type: 'linear', x: 0, y: 0, x2: 0, y2: 1, colorStops: rdylbu.slice().reverse().map((c, i, a) => ({ offset: i / (a.length - 1), color: c })) } } });
txt('-log10(p)', 1240, 237, 26, { rot: Math.PI / 2 });
txt('log2(FC)', 1583.5, 478, 25);
txt('Low Trp', 1465, 466, 24);
txt('(↓ EAE)', 1465, 502, 24);
txt('High Trp', 1711.5, 466, 24);
txt('(↑ EAE)', 1711.5, 502, 24);
graphics.push({ type: 'line', z: 40, silent: true, shape: { x1: 1526, y1: 479, x2: 1390, y2: 479 }, style: { stroke: INK, lineWidth: 3 } });
graphics.push({ type: 'polygon', z: 40, silent: true, shape: { points: [[1378, 479], [1395, 471], [1395, 487]] }, style: { fill: INK } });
graphics.push({ type: 'line', z: 40, silent: true, shape: { x1: 1641, y1: 479, x2: 1777, y2: 479 }, style: { stroke: INK, lineWidth: 3 } });
graphics.push({ type: 'polygon', z: 40, silent: true, shape: { points: [[1789, 479], [1772, 471], [1772, 487]] }, style: { fill: INK } });
txt('Status', 1873, 202, 15, { align: 'left', underline: true });
txt('Bacterial', 361, 551, 24, { underline: true });
txt('Mammalian', 1348, 551, 24, { underline: true });
[117, 279.7, 442.4, 605].forEach((x, i) => txt(groupNames[i], x, 583, 23));
[1101, 1263.8, 1426.6, 1589.4].forEach((x, i) => txt(groupNames[i], x, 583, 23));
txt('Precursor', 171, 1092, 24, { underline: true });
txt('Conjugate', 509, 1092, 24, { underline: true });
txt('Secondary', 815, 1092, 24, { underline: true });
txt('Secondary', 1114, 1092, 24, { underline: true });
txt('4-cholesten-3-one', 176, 1152, 24);
txt('hypotaurine', 509, 1152, 24);
txt('ursodeoxycholate', 811, 1152, 24);
txt('6-beta-', 1114, 1123, 24);
txt('hydroxylithocholate', 1114, 1152, 24);
txt('nicotinamide', 1452.5, 1152, 24);
txt('N1-methyl-2-', 1780, 1123, 24);
txt('pryidone-5-carboxamide', 1780, 1152, 24);

// ---------------- chart ----------------
const chart = echarts.init(document.getElementById('main'), null, { renderer: 'canvas' });
chart.setOption({
  animation: false,
  backgroundColor: '#fff',
  textStyle: { fontFamily: FONT },
  grid: grids,
  xAxis: xAxes,
  yAxis: yAxes,
  visualMap: visualMaps,
  legend: [
    { data: ['High', 'Low'], left: 396, top: 52, orient: 'vertical', backgroundColor: '#fff', borderColor: INK, borderWidth: 2,
      padding: [7, 6, 6, 7], itemGap: 2, itemWidth: 13, itemHeight: 13, selectedMode: false, icon: 'circle', z: 10,
      textStyle: { fontSize: 19, color: INK, fontFamily: FONT } },
    { data: ['DOWN', 'Non-SIG', 'UP'], left: 1873, top: 214, orient: 'vertical', itemGap: 3, itemWidth: 12, itemHeight: 12,
      selectedMode: false, icon: 'circle', textStyle: { fontSize: 15, fontWeight: 'bold', color: INK, fontFamily: FONT } }
  ],
  series,
  graphic: { elements: graphics }
});
</script>
</body>
</html>
